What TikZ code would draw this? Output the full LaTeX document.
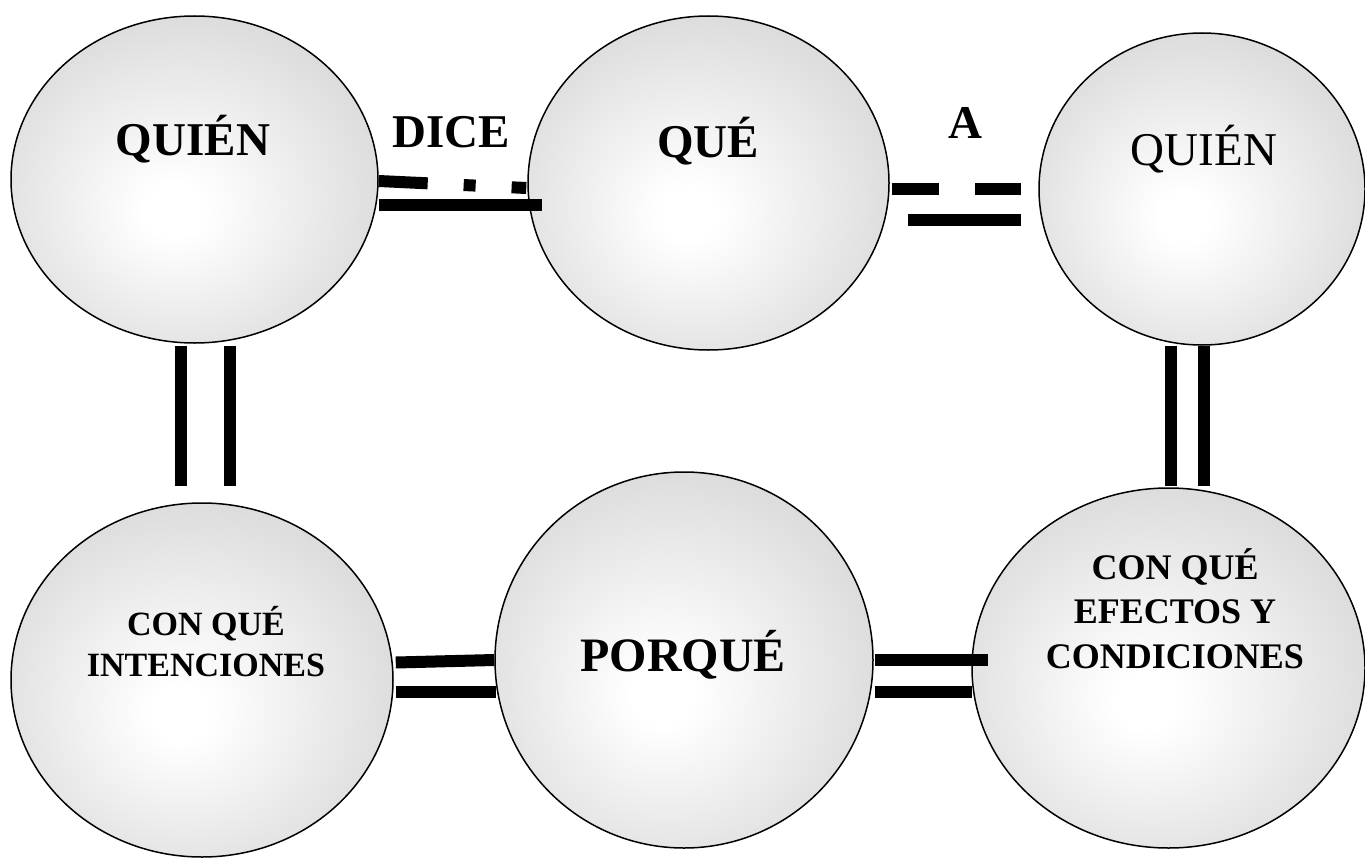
\documentclass[tikz,border=0pt]{standalone}
\usepackage{fontspec}
\setmainfont{Liberation Serif}
\usetikzlibrary{shapes.geometric,calc}
\pgfdeclareradialshading{esfera}{\pgfpoint{-3bp}{-5bp}}{color(0bp)=(white); color(4bp)=(white); color(39bp)=(gray!40); color(60bp)=(gray!40)}
\begin{document}
\begin{tikzpicture}[x=1pt, y=-1pt,
    bola/.style={ellipse, draw, line width=1.5pt, shading=esfera, inner sep=0pt},
    barra/.style={line width=12pt},
    txt/.style={font=\bfseries\fontsize{47}{52}\selectfont, anchor=base, inner sep=0pt}]
\useasboundingbox (0,0) rectangle (1365,859);
\node[bola, minimum width=367pt, minimum height=327pt] (quien1) at (194.5,179.5) {};
\node[bola, minimum width=361pt, minimum height=334pt] (que) at (708.5,183) {};
\node[bola, minimum width=326pt, minimum height=312pt] (quien2) at (1202,189) {};
\node[bola, minimum width=382pt, minimum height=354pt] (intenc) at (202,680) {};
\node[bola, minimum width=378pt, minimum height=376pt] (porque) at (684,660) {};
\node[bola, minimum width=393pt, minimum height=360pt] (efectos) at (1168.5,668) {};

\node[txt] (tquien1) at ($(quien1)+(-1.5,-24.5)$) {QUIÉN};
\node[txt] (tque) at ($(que)+(-0.5,-26)$) {QUÉ};
\node[txt, font=\fontsize{47}{52}\selectfont] (tquien2) at ($(quien2)+(2,-24)$) {QUIÉN};
\node[txt, font=\bfseries\fontsize{34}{41}\selectfont, anchor=center, align=center] (tintenc) at ($(intenc)+(4,-38)$) {CON QUÉ\\INTENCIONES};
\node[txt, font=\bfseries\fontsize{48}{52}\selectfont] (tporque) at ($(porque)+(-1,11)$) {PORQUÉ};
\node[txt, font=\bfseries\fontsize{36}{44.5}\selectfont, anchor=center, align=center] (tefectos) at ($(efectos)+(6.5,-59.5)$) {CON QUÉ\\EFECTOS Y\\CONDICIONES};

\draw[barra, dash pattern=on 49pt off 36pt on 12pt off 36pt] ($(quien1.east)+(0,1.5)$) -- ($(que.west)+(-1,5)$);
\draw[barra] ($(quien1.east)+(0,25.5)$) -- ($(que.west)+(15,22)$);
\node[txt] (dice) at ($(quien1.east)!0.5!(que.west)+(-2,-34)$) {DICE};

\draw[barra, dash pattern=on 47pt off 36pt] ($(que.east)+(2,6)$) -- ($(quien2.west)+(-17,0)$);
\draw[barra] ($(que.east)+(18,37)$) -- ($(quien2.west)+(-17,31)$);
\node[txt] (a) at ($(que.east)!0.5!(quien2.west)+(1,-48)$) {A};

\draw[barra] ($(quien1.south)+(-14,2)$) -- ($(intenc.north)+(-21.5,-16)$);
\draw[barra] ($(quien1.south)+(35.5,2)$) -- ($(intenc.north)+(28,-16)$);
\draw[barra] ($(quien2.south)+(-31,0)$) -- ($(efectos.north)+(2.5,-1)$);
\draw[barra] ($(quien2.south)+(2,0)$) -- ($(efectos.north)+(35.5,-1)$);

\draw[barra] ($(intenc.east)+(2,-17.5)$) -- (porque.west);
\draw[barra] ($(intenc.east)+(2,11.5)$) -- ($(porque.west)+(2,31.5)$);
\draw[barra] ($(porque.east)+(1,0)$) -- ($(efectos.west)+(17,-8)$);
\draw[barra] ($(porque.east)+(1,31.5)$) -- ($(efectos.west)+(1,23.5)$);
\end{tikzpicture}
\end{document}
